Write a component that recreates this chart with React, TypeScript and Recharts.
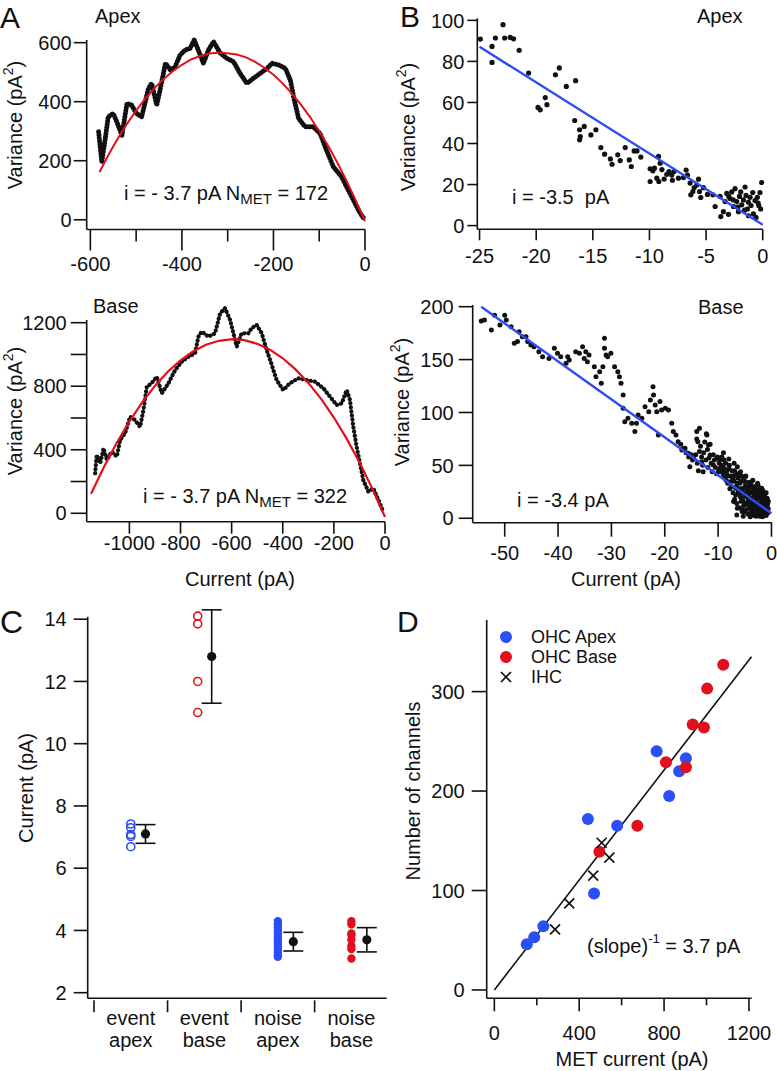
import React from 'react';
import { ScatterChart, Scatter, XAxis, YAxis, ErrorBar } from 'recharts';

const FONT = '"Liberation Sans", Arial, Helvetica, sans-serif';
const BLUE = '#2b4ef5';
const RED = '#e2101c';
const INK = '#111111';

// ---------- Panel A (apex): variance vs current ----------
const apexTrace: [number, number][] = [
  [-582, 298], [-575, 196], [-568, 269], [-561, 349], [-550, 360], [-542, 331], [-531, 286], [-528, 315],
  [-520, 394], [-510, 388], [-499, 360], [-488, 349], [-473, 445], [-466, 462], [-455, 388], [-447, 445],
  [-436, 530], [-425, 507], [-415, 518], [-404, 558], [-393, 575], [-382, 581], [-373, 609], [-360, 558],
  [-353, 530], [-342, 575], [-331, 603], [-316, 564], [-302, 547], [-287, 535], [-273, 496], [-258, 462],
  [-244, 479], [-229, 496], [-214, 513], [-203, 530], [-188, 524], [-174, 513], [-163, 473], [-156, 416],
  [-145, 343], [-131, 315], [-113, 315], [-98, 292], [-84, 235], [-69, 179], [-51, 145], [-40, 111],
  [-25, 66], [-14, 32], [-5, 9], [-2, 5],
];
const apexFit: [number, number][] = [
  [-580, 162], [-560, 221], [-540, 275], [-520, 325], [-500, 370], [-480, 410], [-460, 446], [-440, 477],
  [-420, 503], [-400, 525], [-380, 543], [-360, 555], [-340, 563], [-315, 567], [-280, 560], [-260, 550],
  [-240, 535], [-220, 515], [-200, 491], [-180, 462], [-160, 428], [-140, 390], [-120, 348], [-100, 300],
  [-80, 249], [-60, 192], [-40, 131], [-20, 65], [0, -5],
];

// ---------- Panel A (base) ----------
const baseTrace: [number, number][] = [
  [-1134, 252], [-1128, 367], [-1114, 315], [-1101, 409], [-1088, 336], [-1069, 388], [-1049, 357],
  [-1036, 462], [-1017, 504], [-997, 608], [-978, 587], [-958, 545], [-945, 650], [-932, 797], [-913, 819],
  [-893, 860], [-873, 756], [-847, 819], [-821, 902], [-795, 955], [-769, 986], [-743, 1008], [-730, 1112],
  [-717, 1144], [-691, 1112], [-665, 1133], [-645, 1259], [-626, 1291], [-606, 1217], [-593, 1133],
  [-580, 1049], [-561, 1133], [-535, 1133], [-522, 1165], [-502, 1186], [-482, 1133], [-463, 1028],
  [-443, 934], [-424, 839], [-398, 776], [-372, 819], [-339, 850], [-306, 839], [-274, 829], [-241, 787],
  [-215, 734], [-189, 682], [-169, 692], [-150, 776], [-137, 713], [-124, 545], [-111, 419], [-98, 315],
  [-85, 210], [-65, 136], [-46, 157], [-26, 84], [-7, 10],
];
const baseFit: [number, number][] = [
  [-1150, 123], [-1100, 290], [-1050, 442], [-1000, 578], [-950, 698], [-900, 802], [-850, 891],
  [-800, 963], [-750, 1020], [-700, 1061], [-650, 1086], [-595, 1096], [-550, 1090], [-500, 1067],
  [-450, 1030], [-400, 976], [-350, 906], [-300, 821], [-250, 720], [-200, 603], [-150, 470],
  [-100, 322], [-50, 157], [0, -23],
];

// ---------- Panel B (apex): low-current region ----------
const apexLow: [number, number][] = [
  [-24.93, 90.9], [-23.9, 87.3], [-23.9, 79.5], [-23.6, 91.4], [-22.93, 97.9], [-22.78, 91.4], [-22.3, 91.7],
  [-22.0, 91.0], [-21.5, 85.4], [-20.67, 74.3], [-19.84, 57.6], [-19.64, 56.4], [-19.2, 62.4], [-19.05, 58.9],
  [-18.3, 73.5], [-17.96, 76.8], [-17.34, 67.8], [-16.52, 70.6], [-16.6, 51.2], [-16.17, 46.7], [-16.11, 43.4],
  [-16.17, 41.8], [-15.76, 48.3], [-15.17, 44.2], [-14.73, 46.7], [-14.29, 38.0], [-13.96, 34.8], [-13.45, 32.5],
  [-13.3, 29.9], [-12.8, 34.5], [-12.58, 31.7], [-12.14, 38.0], [-11.78, 32.0], [-11.6, 28.8], [-11.35, 36.4],
  [-11.1, 36.4], [-10.76, 33.4], [-9.94, 27.7], [-9.94, 21.5], [-9.7, 26.7], [-9.56, 28.0], [-9.35, 23.1],
  [-9.2, 33.7], [-9.17, 21.5], [-9.05, 30.4], [-8.9, 27.3], [-8.7, 22.7], [-8.47, 25.0], [-8.27, 26.3],
  [-8.03, 24.6], [-7.97, 22.1], [-7.83, 26.3], [-7.44, 23.1], [-7.0, 23.4], [-6.76, 27.1], [-6.64, 24.6],
  [-6.41, 20.7], [-6.35, 15.0], [-6.17, 16.6], [-6.05, 18.5], [-5.82, 19.8], [-5.67, 22.6], [-5.58, 16.6],
  [-5.47, 13.7], [-5.23, 18.5], [-4.88, 15.2], [-4.4, 15.0], [-4.2, 9.3], [-3.76, 14.2], [-3.7, 4.4],
  [-3.47, 6.8], [-3.32, 11.7], [-3.17, 15.7], [-3.02, 5.5], [-3.0, 14.2], [-2.88, 13.2], [-2.73, 16.4],
  [-2.6, 12.5], [-2.58, 9.3], [-2.44, 18.0], [-2.29, 11.7], [-2.2, 9.0], [-2.14, 6.8], [-2.05, 14.2],
  [-1.94, 16.4], [-1.85, 10.1], [-1.7, 12.5], [-1.6, 7.5], [-1.56, 18.8], [-1.47, 14.7], [-1.35, 8.1],
  [-1.26, 11.4], [-1.26, 4.8], [-1.12, 13.8], [-1.03, 9.8], [-0.88, 16.1], [-0.82, 5.7], [-0.68, 12.2],
  [-0.59, 4.0], [-0.47, 13.8], [-0.4, 11.0], [-0.35, 9.8], [-0.24, 16.1], [-0.18, 8.1], [-0.09, 21.0],
];
const apexLowFit: [number, number][] = [[-25, 87.1], [0, 0.4]];

// ---------- Panel B (base) ----------
const baseLow: [number, number][] = [
  [-54.4, 186.5], [-53.8, 187.5], [-52.5, 178], [-51.9, 192], [-50.9, 182.8], [-50.0, 192], [-49.7, 187.5],
  [-48.8, 181.1], [-48.2, 165.4], [-47.6, 167], [-47.3, 176.4], [-46.7, 171.7], [-46.0, 171.7], [-45.7, 167],
  [-45.1, 163.8], [-44.5, 162.2], [-43.6, 157.5], [-42.9, 152.7], [-41.7, 151.1], [-40.7, 160.7], [-40.1, 155.9],
  [-39.5, 152.7], [-38.5, 146.5], [-38.2, 152.7], [-37.9, 149.6], [-36.7, 157.5], [-36.0, 155.9], [-35.4, 162.2],
  [-35.1, 151.1], [-34.8, 157.5], [-34.5, 148], [-34.2, 154.3], [-33.2, 143.3], [-32.9, 133.8], [-32.2, 138.6],
  [-31.9, 127.6], [-31.6, 143.3], [-31.3, 170.1], [-31.3, 160.7], [-31.0, 154.3], [-30.7, 152.7], [-30.1, 155.9],
  [-29.4, 143.3], [-28.8, 138.6], [-28.5, 133.8], [-28.2, 127.6], [-27.8, 116.5], [-27.8, 104], [-27.5, 91.3],
  [-26.9, 94.5], [-26.2, 89.8], [-25.6, 81.9], [-25.3, 89.8], [-25.0, 97.6], [-24.3, 94.5], [-23.7, 105.5],
  [-23.0, 100.8], [-22.7, 111.8], [-22.2, 124.4], [-22.1, 116.5], [-21.8, 107], [-21.5, 100.8], [-21.2, 78.7],
  [-20.9, 110.3], [-20.6, 102.4], [-19.9, 104], [-19.3, 102.4], [-18.7, 89.8], [-18.4, 81.9], [-17.9, 78.7],
  [-17.5, 72.4], [-17.0, 70], [-16.8, 64.6], [-16.5, 66], [-16.2, 66.1], [-16.0, 62], [-15.6, 61.4],
  [-15.5, 58], [-15.3, 48.8], [-15.0, 60], [-14.8, 55], [-14.6, 56.7], [-14.2, 60], [-14.0, 81.9],
  [-14.0, 75], [-13.9, 52], [-13.8, 72.4], [-13.7, 45], [-13.5, 85], [-13.5, 63], [-13.3, 68], [-13.1, 53.5],
  [-13.1, 58], [-12.9, 50], [-12.8, 44.0], [-12.7, 62], [-12.5, 72], [-12.3, 55], [-12.2, 80], [-12.1, 78.7],
  [-12.0, 65], [-11.9, 48], [-11.8, 69.3], [-11.7, 57], [-11.5, 59.9], [-11.5, 70], [-11.3, 52], [-11.1, 44],
  [-10.9, 50.4], [-10.9, 60], [-10.7, 55], [-10.5, 48], [-10.3, 42], [-10.2, 56.7], [-10.1, 58],
  [-9.9, 45], [-9.8, 52], [-9.7, 55], [-9.6, 47.3], [-9.5, 44], [-9.4, 50], [-9.3, 58], [-9.1, 44],
  [-9.0, 40.9], [-9.0, 48], [-9.0, 62], [-8.9, 55], [-8.8, 38], [-8.7, 46], [-8.6, 52], [-8.5, 36],
  [-8.4, 42], [-8.3, 45.6], [-8.2, 33], [-8.1, 40], [-8.0, 47], [-8.0, 56], [-7.9, 50], [-7.8, 28],
  [-7.7, 34.6], [-7.6, 40], [-7.5, 30], [-7.4, 45], [-7.3, 38], [-7.2, 24], [-7.1, 39.4], [-7.1, 15.8],
  [-7.0, 35], [-7.0, 52], [-6.9, 18], [-6.9, 45], [-6.8, 42], [-6.7, 28.4], [-6.7, 22], [-6.6, 30],
  [-6.5, 14], [-6.5, 3], [-6.4, 48.8], [-6.4, 9.5], [-6.4, 33], [-6.3, 38], [-6.2, 25], [-6.2, 42],
  [-6.1, 23.6], [-6.0, 10], [-6.0, 28], [-5.9, 33], [-5.8, 20], [-5.8, 34.6], [-5.8, 44], [-5.7, 16],
  [-5.6, 28], [-5.6, 40], [-5.5, 8], [-5.5, 18.9], [-5.5, 6.3], [-5.4, 36], [-5.4, 24], [-5.3, 16],
  [-5.3, 2], [-5.2, 28.4], [-5.2, 12], [-5.1, 24], [-5.0, 6], [-5.0, 35], [-4.9, 31], [-4.9, 39.4],
  [-4.9, 22], [-4.8, 13], [-4.8, 40], [-4.7, 20], [-4.7, 8], [-4.6, 14.2], [-4.6, 30], [-4.5, 28],
  [-4.4, 4], [-4.4, 26], [-4.3, 17], [-4.3, 22], [-4.2, 34], [-4.2, 14], [-4.1, 10], [-4.1, 29],
  [-4.0, 24], [-4.0, 1.5], [-3.9, 31.5], [-3.9, 18], [-3.8, 6], [-3.8, 34], [-3.7, 19], [-3.7, 2.5],
  [-3.6, 29], [-3.6, 9.5], [-3.6, 13], [-3.5, 12], [-3.5, 26], [-3.5, 36], [-3.4, 3], [-3.4, 16],
  [-3.3, 22], [-3.3, 25.2], [-3.2, 8], [-3.2, 28], [-3.1, 30], [-3.1, 4], [-3.0, 17], [-3.0, 15.8],
  [-3.0, 24], [-2.9, 2], [-2.9, 13], [-2.8, 25], [-2.8, 19], [-2.7, 11], [-2.7, 4.7], [-2.6, 20],
  [-2.6, 9], [-2.6, 33], [-2.5, 5], [-2.5, 31], [-2.4, 27], [-2.4, 22], [-2.3, 14], [-2.3, 19],
  [-2.2, 8], [-2.2, 25], [-2.2, 2], [-2.1, 22], [-2.1, 12.6], [-2.0, 3], [-2.0, 14], [-1.9, 17],
  [-1.9, 6], [-1.8, 11], [-1.8, 28.4], [-1.8, 21], [-1.7, 24], [-1.7, 1.5], [-1.6, 6], [-1.6, 26],
  [-1.5, 15], [-1.5, 9.5], [-1.5, 4], [-1.4, 20], [-1.4, 12], [-1.3, 9], [-1.3, 22], [-1.2, 3],
  [-1.2, 18.9], [-1.2, 16], [-1.1, 13], [-1.1, 7], [-1.0, 18], [-1.0, 24], [-1.0, 2.5], [-0.9, 7],
  [-0.9, 4.7], [-0.9, 14], [-0.8, 11], [-0.8, 19], [-0.7, 14], [-0.7, 5], [-0.6, 16], [-0.6, 9],
];
const baseLowFit: [number, number][] = [[-54.4, 200], [0, 4.7]];

// ---------- Panel C: unitary current estimates ----------
const categories: [string, string][] = [['event', 'apex'], ['event', 'base'], ['noise', 'apex'], ['noise', 'base']];
const eventApex = [7.42, 7.3, 7.08, 7.02, 6.69];
const eventBase = [14.1, 13.85, 12.0, 11.0];
const noiseApex = [4.3, 4.2, 4.1, 4.0, 3.9, 3.8, 3.7, 3.6, 3.5, 3.4, 3.3, 3.2, 3.15];
const noiseBase = [4.3, 4.2, 3.9, 3.85, 3.7, 3.5, 3.4, 3.1];
const groupMeans = [7.1, 12.8, 3.64, 3.7];
const groupSD = [0.3, 1.5, 0.3, 0.39];
const pointOffset = [0.5, 0.41, 0.5, 0.5];
const meanOffset = [0.7, 0.6, 0.71, 0.71];

// ---------- Panel D: channels vs MET current ----------
const ohcApex: [number, number][] = [
  [153, 46], [188, 53], [231, 64], [470, 97], [441, 172], [579, 165], [765, 240], [824, 195], [871, 220], [903, 233],
];
const ohcBase: [number, number][] = [
  [495, 139], [674, 165], [809, 229], [903, 224], [935, 267], [988, 264], [1003, 303], [1079, 327],
];
const ihc: [number, number][] = [[286, 61], [353, 87], [466, 115], [506, 148], [542, 133]];
const dFit: [number, number][] = [[0, 0], [1212, 335]];

const pts = (a: [number, number][]) => a.map(([x, y]) => ({ x, y }));

// ---------- axis tick renderers ----------
const makeXTick = (len: number, baseline: number, labelled: (v: number) => boolean, minorLen?: number) =>
  (props: any) => {
    const { x, y, payload } = props;
    const v = payload.value;
    const lab = labelled(v);
    const l = lab ? len : minorLen ?? len;
    return (
      <g>
        <line x1={x} y1={y} x2={x} y2={y + l} stroke={INK} strokeWidth={1.6} />
        {lab && (
          <text x={x} y={y + baseline} textAnchor="middle" fontSize={20} fontFamily={FONT} fill={INK}>
            {String(v)}
          </text>
        )}
      </g>
    );
  };

const makeYTick = (len: number, gap: number, labelled: (v: number) => boolean) => (props: any) => {
  const { x, y, payload } = props;
  const v = payload.value;
  const lab = labelled(v);
  return (
    <g>
      <line x1={x} y1={y} x2={x - len} y2={y} stroke={INK} strokeWidth={1.6} />
      {lab && (
        <text x={x - len - gap} y={y} dy="0.36em" textAnchor="end" fontSize={20} fontFamily={FONT} fill={INK}>
          {String(v)}
        </text>
      )}
    </g>
  );
};

const all = () => true;

type Box = { x0: number; y0: number; x1: number; y1: number };

function Frame(props: {
  left: number; top: number; width: number; height: number; box: Box;
  xDomain: [number, number]; yDomain: [number, number]; xTicks: number[]; yTicks: number[];
  xTick: any; yTick: any; children: React.ReactNode;
}) {
  const { left, top, width, height, box } = props;
  const margin = { top: box.y0 - top, right: left + width - box.x1, bottom: 0, left: 0 };
  const axisLine = { stroke: INK, strokeWidth: 1.6 };
  return (
    <div className="panel" style={{ position: 'absolute', left, top, width, height }}>
      <ScatterChart width={width} height={height} margin={margin}>
        <XAxis type="number" dataKey="x" domain={props.xDomain} ticks={props.xTicks} allowDataOverflow
          interval={0} tickSize={0} tickMargin={0} tickLine={false} axisLine={axisLine}
          height={top + height - box.y1} tick={props.xTick} />
        <YAxis type="number" dataKey="y" domain={props.yDomain} ticks={props.yTicks} allowDataOverflow
          interval={0} tickSize={0} tickMargin={0} tickLine={false} axisLine={axisLine}
          width={box.x0 - left} tick={props.yTick} />
        {props.children}
      </ScatterChart>
    </div>
  );
}

const noShape = () => <g />;
const dot = (r: number, fill: string) => (p: any) => <circle cx={p.cx} cy={p.cy} r={r} fill={fill} />;
const ring = (r: number, stroke: string) => (p: any) =>
  <circle cx={p.cx} cy={p.cy} r={r} fill="none" stroke={stroke} strokeWidth={1.6} />;
const cross = (s: number) => (p: any) => (
  <g stroke={INK} strokeWidth={1.7}>
    <line x1={p.cx - s} y1={p.cy - s} x2={p.cx + s} y2={p.cy + s} />
    <line x1={p.cx - s} y1={p.cy + s} x2={p.cx + s} y2={p.cy - s} />
  </g>
);

// C axis geometry
const C_BOX: Box = { x0: 87.7, y0: 616.7, x1: 386.7, y1: 998.3 };
const C_XDOM: [number, number] = [-0.086, 3.98];
const C_HALF = (C_BOX.x1 - C_BOX.x0) / (C_XDOM[1] - C_XDOM[0]) / 2;

const cXTick = (props: any) => {
  const { x, y, payload } = props;
  const lab = categories[payload.value];
  return (
    <g>
      <line x1={x} y1={y + 2} x2={x} y2={y + 14} stroke={INK} strokeWidth={1.6} />
      {lab && (
        <text x={x + C_HALF} textAnchor="middle" fontSize={20} fontFamily={FONT} fill={INK}>
          <tspan x={x + C_HALF} y={y + 27}>{lab[0]}</tspan>
          <tspan x={x + C_HALF} y={y + 49}>{lab[1]}</tspan>
        </text>
      )}
    </g>
  );
};

const T = (p: any) => <text fontFamily={FONT} fill={INK} fontSize={20} {...p} />;

function VarLabel({ x, y }: { x: number; y: number }) {
  return (
    <text transform={`translate(${x},${y}) rotate(-90)`} textAnchor="middle" fontFamily={FONT} fontSize={20} fill={INK}>
      Variance (pA<tspan dy={-9} fontSize={14}>2</tspan><tspan dy={9}>)</tspan>
    </text>
  );
}

export default function App() {
  const cPoints = [eventApex, eventBase, noiseApex, noiseBase];
  const cColors = [BLUE, RED, BLUE, RED];
  const meanData = groupMeans.map((m, i) => ({ x: i + meanOffset[i], y: m, err: groupSD[i] }));

  return (
    <div style={{ position: 'absolute', left: 0, top: 0, width: 777, height: 1071, background: '#fff', overflow: 'hidden' }}>
      <style>{'.panel g[clip-path]{clip-path:none !important;}'}</style>
      {/* A apex */}
      <Frame left={0} top={0} width={390} height={290} box={{ x0: 86.7, y0: 40, x1: 365, y1: 229.5 }}
        xDomain={[-608, 0]} yDomain={[-33, 609]}
        xTicks={[-600, -500, -400, -300, -200, -100, 0]} yTicks={[0, 200, 400, 600]}
        xTick={makeXTick(21, 41, (v) => v % 200 === 0, 12)} yTick={makeYTick(13, 2, all)}>
        <Scatter data={pts(apexTrace)} shape={noShape} isAnimationActive={false} lineType="joint"
          line={{ stroke: INK, strokeWidth: 5, strokeDasharray: '0.1 3', strokeLinecap: 'round', strokeLinejoin: 'round' }} />
        <Scatter data={pts(apexFit)} shape={noShape} isAnimationActive={false} lineType="joint"
          line={{ stroke: RED, strokeWidth: 2 }} />
      </Frame>

      {/* A base */}
      <Frame left={0} top={290} width={395} height={270} box={{ x0: 86.7, y0: 320, x1: 385, y1: 521.7 }}
        xDomain={[-1167, 0]} yDomain={[-53, 1217]}
        xTicks={[-1000, -800, -600, -400, -200, 0]} yTicks={[0, 200, 400, 600, 800, 1000, 1200]}
        xTick={makeXTick(12, 28, all)} yTick={makeYTick(16, 4, (v) => v % 400 === 0)}>
        <Scatter data={pts(baseTrace)} shape={noShape} isAnimationActive={false} lineType="joint"
          line={{ stroke: INK, strokeWidth: 4.2, strokeDasharray: '0.1 4', strokeLinecap: 'round', strokeLinejoin: 'round' }} />
        <Scatter data={pts(baseFit)} shape={noShape} isAnimationActive={false} lineType="joint"
          line={{ stroke: RED, strokeWidth: 2.2 }} />
      </Frame>

      {/* B apex */}
      <Frame left={390} top={0} width={387} height={280} box={{ x0: 477.3, y0: 18.3, x1: 762.7, y1: 229.3 }}
        xDomain={[-25.2, 0]} yDomain={[-1.8, 101]}
        xTicks={[-25, -20, -15, -10, -5, 0]} yTicks={[0, 20, 40, 60, 80, 100]}
        xTick={makeXTick(11, 34, all)} yTick={makeYTick(10, 3, all)}>
        <Scatter data={pts(apexLow)} shape={dot(2.6, INK)} isAnimationActive={false} />
        <Scatter data={pts(apexLowFit)} shape={noShape} isAnimationActive={false} lineType="joint"
          line={{ stroke: BLUE, strokeWidth: 2.4 }} />
      </Frame>

      {/* B base */}
      <Frame left={390} top={290} width={387} height={275} box={{ x0: 472.7, y0: 305, x1: 772, y1: 522.7 }}
        xDomain={[-56, 0.1]} yDomain={[-4.2, 201.6]}
        xTicks={[-50, -40, -30, -20, -10, 0]} yTicks={[0, 50, 100, 150, 200]}
        xTick={makeXTick(14, 37, all)} yTick={makeYTick(14, 5, all)}>
        <Scatter data={pts(baseLow)} shape={dot(2.5, INK)} isAnimationActive={false} />
        <Scatter data={pts(baseLowFit)} shape={noShape} isAnimationActive={false} lineType="joint"
          line={{ stroke: BLUE, strokeWidth: 2.4 }} />
      </Frame>

      {/* C */}
      <Frame left={0} top={600} width={390} height={471} box={C_BOX}
        xDomain={C_XDOM} yDomain={[1.82, 14.08]}
        xTicks={[0, 1, 2, 3]} yTicks={[2, 4, 6, 8, 10, 12, 14]}
        xTick={cXTick} yTick={makeYTick(14, 7, all)}>
        {cPoints.map((vals, i) => (
          <Scatter key={i} data={vals.map((v) => ({ x: i + pointOffset[i], y: v }))}
            shape={i < 2 ? ring(4, cColors[i]) : dot(4.2, cColors[i])} isAnimationActive={false} />
        ))}
        <Scatter data={meanData} shape={dot(4.6, INK)} isAnimationActive={false}>
          <ErrorBar dataKey="err" direction="y" width={10} stroke={INK} strokeWidth={1.6} />
        </Scatter>
      </Frame>

      {/* D */}
      <Frame left={390} top={600} width={387} height={471} box={{ x0: 486.7, y0: 620, x1: 751.7, y1: 998.3 }}
        xDomain={[-36, 1213]} yDomain={[-8.4, 372]}
        xTicks={[0, 200, 400, 600, 800, 1000, 1200]} yTicks={[0, 100, 200, 300]}
        xTick={makeXTick(13, 42, (v) => v % 400 === 0, 7)} yTick={makeYTick(15, 7, all)}>
        <Scatter data={pts(dFit)} shape={noShape} isAnimationActive={false} lineType="joint"
          line={{ stroke: INK, strokeWidth: 1.6 }} />
        <Scatter data={pts(ohcApex)} shape={dot(6, BLUE)} isAnimationActive={false} />
        <Scatter data={pts(ohcBase)} shape={dot(6, RED)} isAnimationActive={false} />
        <Scatter data={pts(ihc)} shape={cross(5)} isAnimationActive={false} />
      </Frame>

      {/* text overlay */}
      <svg width={777} height={1071} style={{ position: 'absolute', left: 0, top: 0, pointerEvents: 'none' }}>
        <T x={0} y={28} fontSize={30}>A</T>
        <T x={95} y={23}>Apex</T>
        <VarLabel x={22} y={125} />
        <T x={124} y={200}>i = - 3.7 pA  N<tspan dy={4} fontSize={15}>MET</tspan><tspan dy={-4}> = 172</tspan></T>

        <T x={93} y={313}>Base</T>
        <VarLabel x={22} y={411} />
        <T x={143} y={503}>i = - 3.7 pA N<tspan dy={4} fontSize={15}>MET</tspan><tspan dy={-4}> = 322</tspan></T>
        <T x={240} y={586} textAnchor="middle">Current (pA)</T>

        <T x={400} y={27} fontSize={30}>B</T>
        <T x={697} y={23}>Apex</T>
        <VarLabel x={415} y={127} />
        <T x={512} y={204}>{'i = -3.5\u00a0 pA'}</T>

        <T x={698} y={314}>Base</T>
        <VarLabel x={409} y={402} />
        <T x={517} y={507}>i = -3.4 pA</T>
        <T x={626} y={586} textAnchor="middle">Current (pA)</T>

        <T x={0} y={633} fontSize={32}>C</T>
        <T transform="translate(33,788) rotate(-90)" textAnchor="middle">Current (pA)</T>

        <T x={397} y={632} fontSize={30}>D</T>
        <T transform="translate(420,791) rotate(-90)" textAnchor="middle">Number of channels</T>
        <T x={632} y={1066} textAnchor="middle">MET current (pA)</T>
        <circle cx={506} cy={637} r={6} fill={BLUE} />
        <T x={531} y={643} fontSize={18}>OHC Apex</T>
        <circle cx={506} cy={657} r={6} fill={RED} />
        <T x={531} y={663} fontSize={18}>OHC Base</T>
        <g stroke={INK} strokeWidth={1.7}>
          <line x1={501} y1={672} x2={511} y2={682} />
          <line x1={501} y1={682} x2={511} y2={672} />
        </g>
        <T x={531} y={683} fontSize={18}>IHC</T>
        <T x={587} y={953}>(slope)<tspan dy={-10} fontSize={13}>-1</tspan><tspan dy={10}> = 3.7 pA</tspan></T>
      </svg>
    </div>
  );
}
